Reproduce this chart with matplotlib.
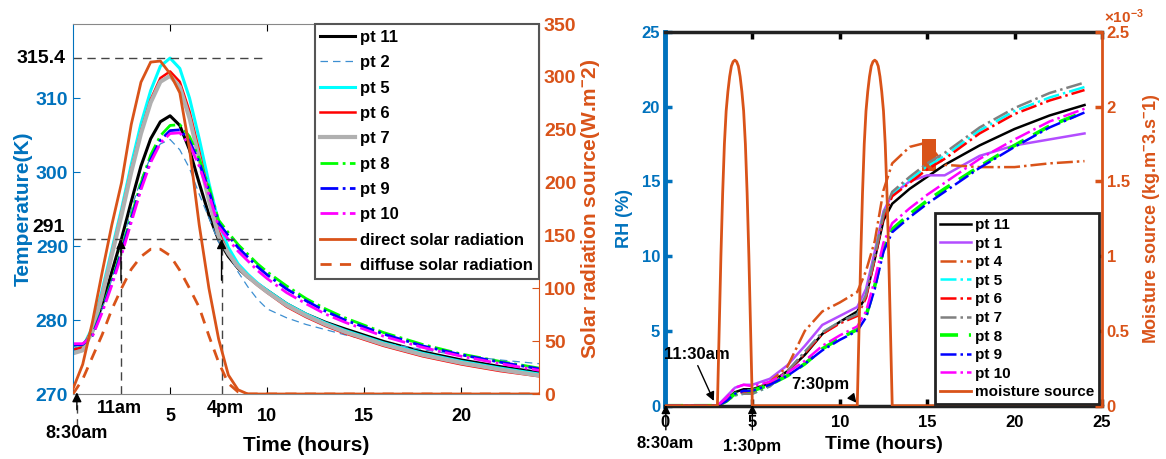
import numpy as np
import matplotlib
matplotlib.use("Agg")
import matplotlib.pyplot as plt
from matplotlib.ticker import FuncFormatter

plt.rcParams['font.family'] = ['Liberation Sans', 'DejaVu Sans']
plt.rcParams['font.weight'] = 'bold'
plt.rcParams['axes.labelweight'] = 'bold'
plt.rcParams['mathtext.fontset'] = 'custom'
plt.rcParams['mathtext.rm'] = 'Liberation Sans:bold'
plt.rcParams['mathtext.default'] = 'rm'

OR = '#D95319'
BL = '#0072BD'

# ---- left panel: temperature (K) and solar radiation (W/m2) ----
t_left = [0, 0.5, 1, 1.5, 2, 2.5, 3, 3.5, 4, 4.5, 5, 5.5, 6, 6.5, 7, 7.5,
          8, 8.5, 9, 9.5, 10, 11, 12, 13, 14, 16, 18, 20, 22, 24]
T_pt11 = [276.0, 276.3, 278.5, 282.0, 286.5, 291.0, 296.0, 300.8, 304.5, 306.8, 307.6, 306.3, 303.0, 298.5, 294.2, 290.8,
          288.6, 287.0, 285.8, 284.9, 284.0, 282.2, 280.8, 279.7, 278.8, 277.1, 275.7, 274.6, 273.7, 272.9]
T_pt2 = [276.5, 276.6, 278.0, 281.5, 285.5, 290.0, 295.0, 299.0, 302.0, 303.8, 304.4, 303.0, 300.5, 297.0, 293.8, 290.5,
         289.0, 286.5, 284.5, 282.8, 281.5, 280.3, 279.4, 278.7, 278.0, 276.9, 276.0, 275.2, 274.6, 274.1]
T_pt5 = [276.0, 276.3, 279.0, 284.0, 289.5, 295.0, 301.0, 306.5, 311.0, 314.3, 315.4, 314.0, 310.0, 304.5, 298.5, 293.2,
         289.8, 287.6, 286.2, 285.0, 284.0, 282.2, 280.8, 279.6, 278.6, 276.9, 275.5, 274.4, 273.5, 272.7]
T_pt6 = [276.0, 276.3, 278.8, 283.5, 289.0, 294.5, 300.3, 305.5, 309.8, 312.7, 313.6, 312.2, 308.2, 302.8, 297.0, 292.0,
         289.0, 287.1, 285.8, 284.7, 283.7, 281.8, 280.4, 279.2, 278.2, 276.5, 275.1, 274.0, 273.1, 272.4]
T_pt7 = [275.5, 275.9, 278.5, 283.3, 288.8, 294.2, 300.0, 305.2, 309.4, 312.2, 313.0, 311.5, 307.3, 301.8, 296.2, 291.3,
         289.0, 287.2, 285.9, 284.8, 283.8, 282.0, 280.6, 279.4, 278.4, 276.7, 275.3, 274.2, 273.3, 272.5]
T_pt8 = [276.6, 276.7, 278.0, 281.5, 285.3, 289.5, 294.0, 298.5, 302.3, 304.9, 306.3, 306.4, 304.8, 301.8, 298.0, 293.5,
         291.8, 290.2, 288.9, 287.6, 286.5, 284.6, 282.9, 281.5, 280.3, 278.3, 276.7, 275.4, 274.4, 273.5]
T_pt9 = [276.6, 276.7, 277.9, 281.3, 285.0, 289.2, 293.6, 298.0, 301.7, 304.3, 305.6, 305.7, 304.2, 301.3, 297.5, 293.1,
         291.4, 289.8, 288.5, 287.2, 286.1, 284.2, 282.6, 281.2, 280.0, 278.1, 276.5, 275.3, 274.3, 273.4]
T_pt10 = [276.8, 276.8, 277.8, 281.0, 284.7, 288.8, 293.2, 297.6, 301.3, 303.9, 305.2, 305.3, 303.7, 300.8, 297.0, 292.6,
          290.9, 289.3, 288.0, 286.7, 285.6, 283.7, 282.2, 280.8, 279.7, 277.8, 276.3, 275.1, 274.1, 273.2]
direct_solar = [5, 28, 68, 115, 160, 200, 255, 295, 314, 315, 303, 285, 232, 160, 100, 52,
                18, 4, 0, 0, 0, 0, 0, 0, 0, 0, 0, 0, 0, 0]
diffuse_solar = [0, 14, 35, 56, 80, 100, 118, 130, 137, 137, 131, 117, 100, 82, 55, 30,
                 10, 2, 0, 0, 0, 0, 0, 0, 0, 0, 0, 0, 0, 0]

# ---- right panel: RH (%) and moisture source (kg/m3/s) ----
t_right = [0, 3, 3.5, 4, 4.5, 5, 6, 7, 8, 9, 10, 11, 11.5, 12, 12.5, 13, 14, 15, 16, 18, 20, 22, 24]
RH_pt11 = [0, 0, 0.4, 0.9, 1.1, 1.1, 1.5, 2.3, 3.4, 4.8, 5.6, 6.3, 7.3, 9.8, 12.4, 13.5, 14.5, 15.3, 16.1, 17.4, 18.5, 19.4, 20.1]
RH_pt1 = [0, 0, 0.6, 1.2, 1.4, 1.4, 1.8, 2.7, 4.0, 5.4, 6.0, 6.6, 7.8, 10.3, 13.0, 14.1, 15.0, 15.4, 15.4, 16.7, 17.4, 17.8, 18.2]
RH_pt4 = [0, 0, 0.3, 0.7, 0.9, 1.0, 1.6, 2.6, 5.0, 6.3, 6.9, 7.6, 9.0, 11.0, 14.4, 16.2, 17.3, 17.6, 16.1, 15.95, 15.95, 16.2, 16.35]
RH_pt5 = [0, 0, 0.3, 0.7, 0.8, 0.8, 1.3, 2.3, 3.6, 4.9, 5.6, 6.1, 7.4, 10.0, 12.8, 14.2, 15.1, 16.0, 16.7, 18.4, 19.7, 20.6, 21.3]
RH_pt6 = [0, 0, 0.3, 0.8, 0.9, 0.9, 1.4, 2.3, 3.5, 4.8, 5.5, 6.0, 7.2, 9.8, 12.6, 14.0, 14.9, 15.8, 16.5, 18.2, 19.5, 20.4, 21.1]
RH_pt7 = [0, 0, 0.3, 0.7, 0.8, 0.8, 1.3, 2.3, 3.6, 4.9, 5.6, 6.1, 7.4, 10.0, 12.8, 14.3, 15.3, 16.2, 16.9, 18.6, 19.9, 20.9, 21.6]
RH_pt8 = [0, 0, 0.3, 0.8, 1.0, 1.0, 1.4, 2.0, 2.8, 3.8, 4.5, 5.1, 6.0, 8.0, 10.5, 11.8, 12.8, 13.7, 14.5, 16.0, 17.4, 18.7, 19.65]
RH_pt9 = [0, 0, 0.3, 0.8, 1.0, 1.0, 1.4, 2.0, 2.8, 3.7, 4.4, 5.0, 5.9, 7.8, 10.3, 11.6, 12.6, 13.5, 14.3, 15.9, 17.3, 18.6, 19.6]
RH_pt10 = [0, 0, 0.5, 1.2, 1.4, 1.3, 1.6, 2.2, 3.0, 4.0, 4.7, 5.3, 6.3, 8.4, 10.9, 12.2, 13.2, 14.1, 14.9, 16.5, 17.8, 19.0, 19.85]
# oscillating part of pt 4
osc_t = [14.7, 15.5]
osc_lo = [15.7, 15.7]
osc_hi = [17.8, 17.8]

moist_t = [0, 3.0, 3.1, 3.2, 3.3, 3.4, 3.5, 3.6, 3.7, 3.8, 3.9, 4.0, 4.1, 4.2, 4.3, 4.4, 4.5, 4.6, 4.7, 4.8, 4.9, 5.0,
           11.0, 11.1, 11.2, 11.3, 11.4, 11.5, 11.6, 11.7, 11.8, 11.9, 12.0, 12.1, 12.2, 12.3, 12.4, 12.5, 12.6,
           12.7, 12.8, 12.9, 13.0, 24.9]
moist_e3 = [0, 0, 0.5, 1.0, 1.42, 1.75, 1.97, 2.10, 2.20, 2.27, 2.30, 2.31, 2.30, 2.27, 2.20, 2.10, 1.97, 1.75, 1.42, 1.0, 0.5, 0,
            0, 0.5, 1.0, 1.42, 1.75, 1.97, 2.10, 2.20, 2.27, 2.30, 2.31, 2.30, 2.27, 2.20, 2.10, 1.97, 1.75,
            1.42, 1.0, 0.5, 0, 0]

fig = plt.figure(figsize=(11.66, 4.59), dpi=100)

# ================= left =================
ax1 = fig.add_axes([0.0626, 0.1416, 0.3997, 0.806])
ax1r = ax1.twinx()

l11, = ax1.plot(t_left, T_pt11, color='k', lw=2.2, label='pt 11')
l2, = ax1.plot(t_left, T_pt2, color='#3d8fd1', lw=0.9, ls=(0, (6, 4)), label='pt 2')
l5, = ax1.plot(t_left, T_pt5, color='#00FFFF', lw=2.2, label='pt 5')
l6, = ax1.plot(t_left, T_pt6, color='#FF0000', lw=1.8, label='pt 6')
l7, = ax1.plot(t_left, T_pt7, color='#B0B0B0', lw=3.0, label='pt 7')
l8, = ax1.plot(t_left, T_pt8, color='#00FF00', lw=2.0, ls='-.', label='pt 8')
l9, = ax1.plot(t_left, T_pt9, color='#0000FF', lw=2.0, ls='-.', label='pt 9')
l10, = ax1.plot(t_left, T_pt10, color='#FF00FF', lw=2.0, ls='-.', label='pt 10')
ld, = ax1r.plot(t_left, direct_solar, color=OR, lw=2.0, label='direct solar radiation')
lf, = ax1r.plot(t_left, diffuse_solar, color=OR, lw=2.0, ls=(0, (4, 3)), label='diffuse solar radiation')

ax1.set_xlim(0, 24)
ax1.set_ylim(270, 320)
ax1r.set_ylim(0, 350)
ax1.set_xticks([5, 10, 15, 20])
ax1.set_yticks([270, 280, 290, 300, 310])
ax1r.set_yticks(range(0, 351, 50))
ax1.tick_params(axis='x', direction='in', top=True, length=5, labelsize=13, pad=10)
ax1.tick_params(axis='y', direction='in', length=5, colors=BL, labelsize=14)
ax1r.tick_params(axis='y', direction='in', length=5, colors=OR, labelsize=14)
ax1.spines['left'].set_color(BL)
ax1.spines['top'].set_color('#888888')
ax1.spines['bottom'].set_color('#888888')
ax1.spines['right'].set_visible(False)
ax1r.spines['right'].set_color(OR)
for s in ['left', 'top', 'bottom']:
    ax1r.spines[s].set_visible(False)
ax1.set_ylabel('Temperature(K)', color=BL, fontsize=15, labelpad=2)
ax1r.set_ylabel('Solar radiation source(W.m$^{-}$2)', color=OR, fontsize=15, labelpad=2)
ax1.set_xlabel('Time (hours)', fontsize=15, labelpad=8)

dash = dict(color='#444444', lw=1.0, ls=(0, (6, 4)))
ax1.plot([0, 9.8], [315.4, 315.4], **dash)
ax1.plot([0, 10.2], [291, 291], **dash)
ax1.plot([2.47, 2.47], [270, 291], **dash)
ax1.plot([7.65, 7.65], [270, 291], **dash)
ax1.plot([0.2, 0.2], [265.6, 269.6], clip_on=False, **dash)
ax1.text(-0.4, 315.4, '315.4', ha='right', va='center', fontsize=14)
ax1.text(-0.4, 291.4, '291', ha='right', va='bottom', fontsize=14)
arr = dict(arrowstyle='-|>', color='k', lw=1.0, mutation_scale=14)
ax1.annotate('', xy=(2.47, 291.3), xytext=(2.47, 285), arrowprops=arr)
ax1.annotate('', xy=(7.65, 291.3), xytext=(7.65, 285), arrowprops=arr)
ax1.annotate('', xy=(0.2, 270.6), xytext=(0.2, 267.5), arrowprops=arr, annotation_clip=False)
ax1.text(0.2, 264.6, '8:30am', ha='center', va='center', fontsize=13)
ax1.text(2.4, 268.0, '11am', ha='center', va='center', fontsize=13)
ax1.text(7.85, 268.0, '4pm', ha='center', va='center', fontsize=13)

leg1 = ax1r.legend(handles=[l11, l2, l5, l6, l7, l8, l9, l10, ld, lf], loc='upper right',
                   bbox_to_anchor=(1.0, 1.0), borderaxespad=0, fontsize=12, handlelength=2.1,
                   handletextpad=0.3, labelspacing=0.62, borderpad=0.35, fancybox=False, framealpha=1)
leg1.get_frame().set_edgecolor('#555555')
leg1.get_frame().set_linewidth(1.5)

# ================= right =================
ax2 = fig.add_axes([0.5703, 0.1161, 0.3748, 0.8148])
ax2r = ax2.twinx()

r11, = ax2.plot(t_right, RH_pt11, color='k', lw=1.8, label='pt 11')
r1, = ax2.plot(t_right, RH_pt1, color='#B34DFF', lw=1.8, label='pt 1')
r4, = ax2.plot(t_right, RH_pt4, color=OR, lw=1.8, ls='-.', label='pt 4')
ax2.fill_between(osc_t, osc_lo, osc_hi, color=OR, lw=0)
r5, = ax2.plot(t_right, RH_pt5, color='#00FFFF', lw=1.8, ls='-.', label='pt 5')
r6, = ax2.plot(t_right, RH_pt6, color='#FF0000', lw=1.8, ls='-.', label='pt 6')
r7, = ax2.plot(t_right, RH_pt7, color='#808080', lw=1.8, ls='-.', label='pt 7')
r8, = ax2.plot(t_right, RH_pt8, color='#00FF00', lw=2.6, ls=(0, (5, 3)), label='pt 8')
r9, = ax2.plot(t_right, RH_pt9, color='#0000FF', lw=1.8, ls='-.', label='pt 9')
r10, = ax2.plot(t_right, RH_pt10, color='#FF00FF', lw=1.8, ls='-.', label='pt 10')
rm, = ax2r.plot(moist_t, np.array(moist_e3) * 1e-3, color=OR, lw=2.0, label='moisture source')

ax2.set_xlim(0, 25)
ax2.set_ylim(0, 25)
ax2r.set_ylim(0, 2.5e-3)
ax2.set_xticks(range(0, 26, 5))
ax2.set_yticks(range(0, 26, 5))
ax2r.set_yticks(np.arange(0, 2.51e-3, 0.5e-3))
ax2r.yaxis.set_major_formatter(FuncFormatter(lambda v, p: f'{v * 1e3:g}'))
ax2.tick_params(axis='x', direction='in', top=True, length=5, width=2.5, labelsize=12, pad=7)
ax2.tick_params(axis='y', direction='in', length=5, width=2.5, colors=BL, labelsize=12)
ax2r.tick_params(axis='y', direction='in', length=5, width=2.5, colors=OR, labelsize=12)
ax2.spines['left'].set_color(BL)
ax2.spines['left'].set_linewidth(3.5)
ax2.spines['top'].set_color('#222222')
ax2.spines['top'].set_linewidth(2.5)
ax2.spines['bottom'].set_color('#222222')
ax2.spines['bottom'].set_linewidth(2.5)
ax2.spines['right'].set_visible(False)
ax2r.spines['right'].set_color(OR)
ax2r.spines['right'].set_linewidth(2)
for s in ['left', 'top', 'bottom']:
    ax2r.spines[s].set_visible(False)
ax2.set_ylabel('RH (%)', color=BL, fontsize=13, labelpad=6)
ax2r.set_ylabel('Moisture source (kg.m$^{-}$3.s$^{-}$1)', color=OR, fontsize=13, labelpad=8)
ax2.set_xlabel('Time (hours)', fontsize=14, labelpad=4)
ax2r.text(1.005, 1.016, '×10$^{-3}$', transform=ax2r.transAxes, ha='left', va='bottom',
          color=OR, fontsize=11)

arr2 = dict(arrowstyle='-|>', color='k', lw=1.0, mutation_scale=13)
ax2.annotate('', xy=(2.86, 0.15), xytext=(1.81, 2.85), arrowprops=arr2)
ax2.text(1.8, 3.4, '11:30am', ha='center', va='center', fontsize=12)
ax2.annotate('', xy=(11.05, 0.05), xytext=(10.57, 0.75), arrowprops=arr2)
ax2.text(8.86, 1.45, '7:30pm', ha='center', va='center', fontsize=12)
ax2.annotate('', xy=(0.05, 0.25), xytext=(0.05, -1.8), arrowprops=arr2, annotation_clip=False)
ax2.annotate('', xy=(5.0, 0.25), xytext=(5.0, -1.8), arrowprops=arr2, annotation_clip=False)
ax2.text(0.0, -2.5, '8:30am', ha='center', va='center', fontsize=12)
ax2.text(5.0, -2.75, '1:30pm', ha='center', va='center', fontsize=12)

leg2 = ax2r.legend(handles=[r11, r1, r4, r5, r6, r7, r8, r9, r10, rm], loc='lower right',
                   bbox_to_anchor=(0.993, 0.005), borderaxespad=0, fontsize=11, handlelength=2.0,
                   handletextpad=0.3, labelspacing=0.3, borderpad=0.3, fancybox=False, framealpha=1)
leg2.get_frame().set_edgecolor('#222222')
leg2.get_frame().set_linewidth(2.0)

fig.savefig('out.png', dpi=100)
